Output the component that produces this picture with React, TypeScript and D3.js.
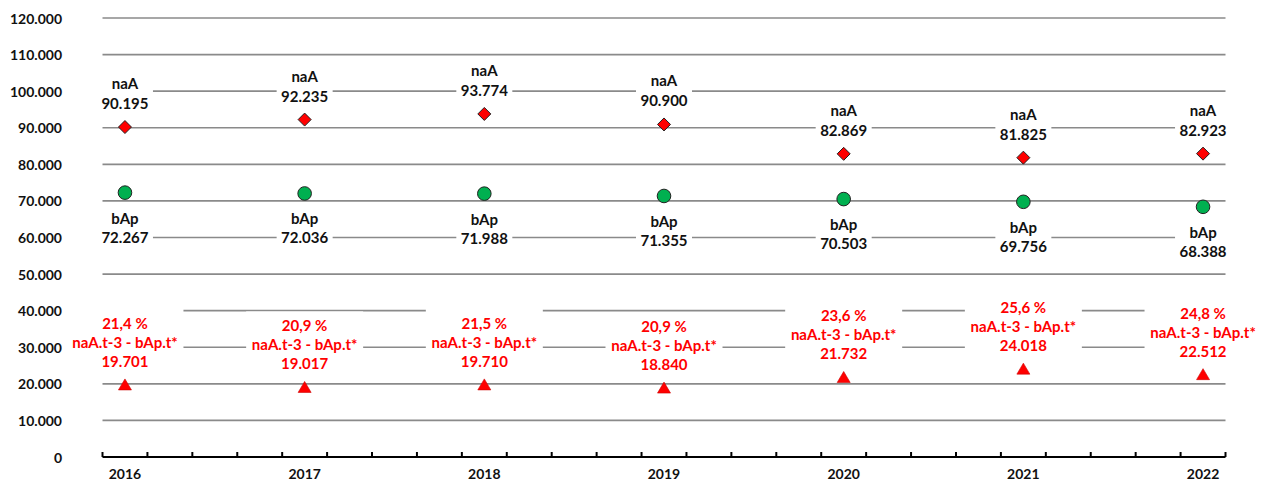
import React from "react";
import * as d3 from "d3";

const years = ["2016", "2017", "2018", "2019", "2020", "2021", "2022"];
const naA = [90195, 92235, 93774, 90900, 82869, 81825, 82923];
const bAp = [72267, 72036, 71988, 71355, 70503, 69756, 68388];
const diff = [19701, 19017, 19710, 18840, 21732, 24018, 22512];
const pct = ["21,4 %", "20,9 %", "21,5 %", "20,9 %", "23,6 %", "25,6 %", "24,8 %"];
const yTicks = [0, 10000, 20000, 30000, 40000, 50000, 60000, 70000, 80000, 90000, 100000, 110000, 120000];

const W = 1268;
const H = 481;
const FONT = "Lato, 'Open Sans', sans-serif";

const fmt = (v: number) => {
  if (v === 0) return "0";
  const s = String(v);
  return s.replace(/\B(?=(\d{3})+(?!\d))/g, ".");
};

export default function App() {
  const y = d3.scaleLinear().domain([0, 120000]).range([457, 18]);
  const x = d3.scaleLinear().domain([0, 25]).range([102.5, 1225.5]);
  const px = (i: number) => x(4 * i + 0.5);
  const minorTicks = d3.range(0, 26);
  const grid = "#8a8a8a";

  return (
    <svg
      width={W}
      height={H}
      style={{ position: "fixed", left: 0, top: 0, background: "#fff" }}
      fontFamily={FONT}
    >
      {yTicks.filter((t) => t > 0).map((t) => (
        <line key={t} x1={x(0)} x2={x(25)} y1={y(t)} y2={y(t)} stroke={grid} strokeWidth={1.6} />
      ))}
      {yTicks.map((t) => (
        <text key={"l" + t} x={62} y={y(t)} textAnchor="end" dominantBaseline="central" fontSize={14} fontWeight={700} fill="#111">
          {fmt(t)}
        </text>
      ))}
      <line x1={x(0)} x2={x(25)} y1={y(0)} y2={y(0)} stroke="#000" strokeWidth={2} />
      {minorTicks.map((t) => (
        <line key={"t" + t} x1={x(t)} x2={x(t)} y1={y(0) - 5} y2={y(0)} stroke="#000" strokeWidth={2} />
      ))}
      {years.map((yr, i) => (
        <text key={yr} x={px(i)} y={473} textAnchor="middle" dominantBaseline="central" fontSize={14} fontWeight={700} fill="#111">
          {yr}
        </text>
      ))}

      {naA.map((v, i) => {
        const cx = px(i), cy = y(v), r = 6.5;
        return (
          <path key={"d" + i} d={`M${cx},${cy - r}L${cx + r},${cy}L${cx},${cy + r}L${cx - r},${cy}Z`} fill="#ff0000" stroke="#222" strokeWidth={1} />
        );
      })}
      {bAp.map((v, i) => (
        <circle key={"c" + i} cx={px(i)} cy={y(v)} r={6.8} fill="#00b050" stroke="#222" strokeWidth={1} />
      ))}
      {diff.map((v, i) => {
        const cx = px(i), cy = y(v);
        return (
          <path key={"tr" + i} d={`M${cx},${cy - 6}L${cx + 6.5},${cy + 5}L${cx - 6.5},${cy + 5}Z`} fill="#ff0000" stroke="#c00" strokeWidth={0.6} />
        );
      })}

      {naA.map((v, i) => {
        const cx = px(i), cy = y(v);
        return (
          <g key={"nl" + i}>
            <rect x={cx - 28} y={cy - 55} width={56} height={41} fill="#fff" />
            <text x={cx} y={cy - 44} textAnchor="middle" dominantBaseline="central" fontSize={15} fontWeight={700} fill="#111">naA</text>
            <text x={cx} y={cy - 24} textAnchor="middle" dominantBaseline="central" fontSize={15} fontWeight={700} fill="#111">{fmt(v)}</text>
          </g>
        );
      })}
      {bAp.map((v, i) => {
        const cx = px(i), cy = y(v);
        return (
          <g key={"bl" + i}>
            <rect x={cx - 28} y={cy + 14} width={56} height={41} fill="#fff" />
            <text x={cx} y={cy + 25} textAnchor="middle" dominantBaseline="central" fontSize={15} fontWeight={700} fill="#111">bAp</text>
            <text x={cx} y={cy + 44} textAnchor="middle" dominantBaseline="central" fontSize={15} fontWeight={700} fill="#111">{fmt(v)}</text>
          </g>
        );
      })}
      {diff.map((v, i) => {
        const cx = px(i), cy = y(v);
        return (
          <g key={"dl" + i}>
            <rect x={cx - 58.5} y={cy - 76} width={117} height={63} fill="#fff" />
            <text x={cx} y={cy - 62} textAnchor="middle" dominantBaseline="central" fontSize={15} fontWeight={700} fill="#ff0000">{pct[i]}</text>
            <text x={cx} y={cy - 43} textAnchor="middle" dominantBaseline="central" fontSize={15} fontWeight={700} fill="#ff0000">naA.t-3 - bAp.t*</text>
            <text x={cx} y={cy - 24} textAnchor="middle" dominantBaseline="central" fontSize={15} fontWeight={700} fill="#ff0000">{fmt(v)}</text>
          </g>
        );
      })}
    </svg>
  );
}
